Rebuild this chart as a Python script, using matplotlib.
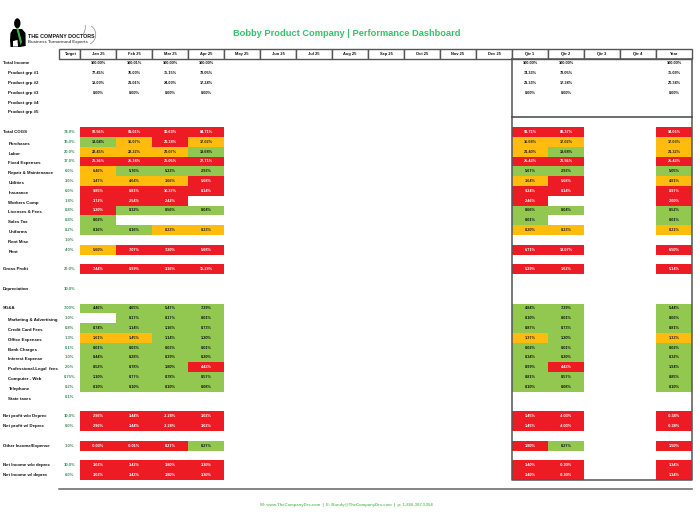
import matplotlib
matplotlib.use("Agg")
import matplotlib.pyplot as plt
from matplotlib.patches import Rectangle, Ellipse, Polygon, PathPatch
from matplotlib.path import Path

plt.rcParams['font.family'] = ['Liberation Sans', 'DejaVu Sans']

title = "Bobby Product Company | Performance Dashboard"
footer = "W: www.TheCompanyDrs.com  |  E: Bundy@TheCompanyDrs.com  |  p: 1-866-387-5354"
headers = ["Target", "Jan 25", "Feb 25", "Mar 25", "Apr 25", "May 25", "Jun 25", "Jul 25", "Aug 25",
           "Sep 25", "Oct 25", "Nov 25", "Dec 25", "Qtr 1", "Qtr 2", "Qtr 3", "Qtr 4", "Year"]

labels = ["Total Income", "Product grp #1", "Product grp #2", "Product grp #3", "Product grp #4", "Product grp #5", "",
          "Total COGS", "Purchases", "Labor", "Fixed Expenses", "Repair & Maintenance", "Utilities", "Insurance",
          "Workers Comp", "Licenses & Fees", "Sales Tax", "Uniforms", "Rent Misc", "Rent", "",
          "Gross Profit", "", "Depreciation", "",
          "SG&A", "Marketing & Advertising", "Credit Card Fees", "Office Expenses", "Bank Charges", "Interest Expense",
          "Professional-Legal  fees", "Computer - Web", "Telephone", "State taxes", "",
          "Net profit w/o Deprec", "Net profit w/ Deprec", "",
          "Other Income/Expense", "",
          "Net Income w/o deprec", "Net Income w/ deprec"]
indented = ["Product grp #1", "Product grp #2", "Product grp #3", "Product grp #4", "Product grp #5",
            "Purchases", "Labor", "Fixed Expenses", "Repair & Maintenance", "Utilities", "Insurance", "Workers Comp",
            "Licenses & Fees", "Sales Tax", "Uniforms", "Rent Misc", "Rent",
            "Marketing & Advertising", "Credit Card Fees", "Office Expenses", "Bank Charges", "Interest Expense",
            "Professional-Legal  fees", "Computer - Web", "Telephone", "State taxes"]

targets = ["", "", "", "", "", "", "",
           "74.0%", "15.0%", "20.0%", "17.0%", "6.0%", "3.0%", "6.0%", "1.8%", "0.8%", "0.8%", "0.2%", "1.0%", "4.0%", "",
           "26.0%", "", "10.0%", "",
           "7.00%", "1.0%", "0.8%", "1.3%", "0.1%", "1.0%", "2.0%", "0.75%", "0.2%", "0.1%", "",
           "10.0%", "0.0%", "", "1.0%", "", "10.0%", "0.0%"]

jan = ["100.00%", "77.45%", "18.00%", "0.00%", "", "", "",
       "92.56%", "13.04%", "22.45%", "26.36%", "6.46%", "3.47%", "9.85%", "3.72%", "1.20%", "0.02%", "0.16%", "", "5.60%", "",
       "7.44%", "", "", "",
       "4.46%", "", "0.74%", "1.61%", "0.01%", "0.44%", "0.52%", "1.10%", "0.10%", "", "",
       "2.96%", "2.96%", "", "-0.03%", "", "3.03%", "3.03%"]
feb = ["100.01%", "76.00%", "21.01%", "0.00%", "", "", "",
       "91.01%", "16.07%", "22.22%", "25.34%", "5.76%", "4.64%", "8.81%", "2.54%", "0.32%", "", "0.16%", "", "7.07%", "",
       "8.99%", "", "", "",
       "4.65%", "0.17%", "1.14%", "1.45%", "0.03%", "0.28%", "0.78%", "0.77%", "0.10%", "", "",
       "3.44%", "3.44%", "", "-0.01%", "", "3.43%", "3.43%"]
mar = ["100.00%", "75.15%", "24.00%", "0.00%", "", "", "",
       "90.63%", "20.18%", "20.07%", "26.05%", "5.23%", "3.66%", "10.37%", "2.42%", "0.56%", "", "0.23%", "", "7.20%", "",
       "3.16%", "", "", "",
       "5.47%", "0.17%", "1.16%", "1.14%", "0.03%", "0.39%", "1.80%", "0.78%", "0.10%", "", "",
       "-2.28%", "-2.28%", "", "0.27%", "", "3.80%", "3.80%"]
apr = ["100.00%", "78.05%", "17.24%", "0.00%", "", "", "",
       "84.71%", "17.02%", "19.68%", "27.71%", "2.93%", "5.68%", "8.14%", "", "0.04%", "", "0.23%", "", "5.68%", "",
       "15.29%", "", "", "",
       "7.29%", "0.01%", "0.73%", "1.20%", "0.01%", "0.20%", "4.43%", "0.57%", "0.08%", "", "",
       "3.03%", "3.03%", "", "0.27%", "", "3.30%", "3.30%"]
qtr1 = ["100.00%", "74.33%", "21.33%", "0.00%", "", "", "",
        "93.71%", "16.68%", "21.40%", "25.43%", "5.67%", "3.64%", "9.24%", "2.46%", "0.66%", "0.01%", "0.20%", "", "6.71%", "",
        "5.29%", "", "", "",
        "4.84%", "0.10%", "0.87%", "1.37%", "0.02%", "0.34%", "0.99%", "0.81%", "0.10%", "", "",
        "1.45%", "1.45%", "", "1.80%", "", "3.40%", "3.40%"]
qtr2 = ["100.00%", "78.05%", "17.34%", "0.00%", "", "", "",
        "88.37%", "17.02%", "19.68%", "26.56%", "2.93%", "5.68%", "8.14%", "", "0.04%", "", "0.23%", "", "13.07%", "",
        "1.63%", "", "", "",
        "7.29%", "0.01%", "0.73%", "1.20%", "0.01%", "0.20%", "4.43%", "0.57%", "0.08%", "", "",
        "-4.03%", "-4.03%", "", "0.27%", "", "-0.30%", "-0.30%"]
year = ["100.00%", "75.09%", "20.34%", "0.00%", "", "", "",
        "94.06%", "17.03%", "21.32%", "25.43%", "5.05%", "4.81%", "8.97%", "2.00%", "0.52%", "0.01%", "0.21%", "", "6.50%", "",
        "5.14%", "", "", "",
        "5.44%", "0.06%", "0.81%", "1.33%", "0.02%", "0.32%", "1.94%", "0.85%", "0.10%", "", "",
        "-0.38%", "-0.38%", "", "1.50%", "", "1.34%", "1.34%"]

# status per row, letters: R red, Y amber, G green, . no fill
status_jan = ".......RGYRYYRRRGG.Y.R...G.GYGGGGG..RR.R.RR"
status_feb = ".......RYYRGYRRG.G.R.R...GGGYGGGGG..RR.R.RR"
status_mar = ".......RRYRGYRRG.Y.R.R...GGGGGGGGG..RR.R.RR"
status_apr = ".......RYGRGRR.G.Y.R.R...GGGGGGRGG..RR.G.RR"
status_q1 = ".......RYYRGYRRGGY.R.R...GGGYGGGGG..RR.R.RR"
status_q2 = ".......RYGRGRR.G.Y.R.R...GGGGGGRGG..RR.G.RR"
status_yr = ".......RYYRGYRRGGY.R.R...GGGYGGGGG..RR.R.RR"

RED, AMBER, GREEN = "#ED1C24", "#FFBC0D", "#92C84F"
fill = {"R": RED, "Y": AMBER, "G": GREEN}
ink = {"R": "white", "Y": "#222222", "G": "#111111", ".": "#111111"}
TARGET_GREEN = "#3F8F5B"
EDGE = "#555555"

# layout in pixels
X0, TW, CW = 59.0, 21.0, 36.0
Y0, RH, HTOP, HBOT = 63.4, 9.8, 49.0, 59.0
col_left = [X0] + [X0 + TW + CW * i for i in range(17)]
col_w = [TW] + [CW] * 17
data_cols = {1: (jan, status_jan), 2: (feb, status_feb), 3: (mar, status_mar), 4: (apr, status_apr),
             13: (qtr1, status_q1), 14: (qtr2, status_q2), 17: (year, status_yr)}

fig = plt.figure(figsize=(7.0, 5.14), dpi=100)
ax = fig.add_axes([0, 0, 1, 1])
ax.set_xlim(0, 700)
ax.set_ylim(514, 0)
ax.axis("off")

row_y = lambda r: Y0 + RH * r
VAL = 2.75

for c, (vals, stat) in data_cols.items():
    for r, (v, s) in enumerate(zip(vals, stat)):
        if s in fill and v:
            ax.add_patch(Rectangle((col_left[c], row_y(r) - RH / 2), col_w[c], RH, fc=fill[s], ec="none", zorder=1))
        if v:
            ax.text(col_left[c] + col_w[c] / 2, row_y(r), v, ha="center", va="center", fontsize=VAL,
                    fontweight="bold", color=ink[s], zorder=3)

for r, (lab, t) in enumerate(zip(labels, targets)):
    if lab:
        ind = lab in indented
        off = 2.0 if ind and r > 6 else 0.0
        ax.text(8.5 if ind else 3.0, row_y(r) + off, lab, ha="left", va="center", fontsize=3.15,
                fontweight="bold", color="#111111")
    if t:
        ax.text(col_left[0] + TW / 2, row_y(r), t, ha="center", va="center", fontsize=3.0,
                fontweight="bold", color=TARGET_GREEN)

for h, x, w in zip(headers, col_left, col_w):
    ax.add_patch(Rectangle((x, HTOP), w, HBOT - HTOP, fc="white", ec=EDGE, lw=1.0, zorder=4))
    ax.text(x + w / 2, (HTOP + HBOT) / 2, h, ha="center", va="center", fontsize=2.9, fontweight="bold",
            color="#111111", zorder=5)

# summary frame
qx0, qx1 = col_left[13], col_left[17] + CW
bottom = row_y(42) + RH / 2
ax.plot([qx0, qx0, qx1, qx1, qx0], [HBOT, bottom, bottom, HBOT, HBOT], color=EDGE, lw=1.1, zorder=4)
ax.plot([qx0, qx1], [117.3, 117.3], color="#444444", lw=1.1, zorder=4)
ax.plot([X0, qx1], [489.3, 489.3], color="#666666", lw=1.1, zorder=4)

ax.text(347, 33.5, title, ha="center", va="center", fontsize=6.68, fontweight="bold", color="#35C26A")
ax.text(346, 505.3, footer, ha="center", va="center", fontsize=3.05, fontweight="bold", color="#72C172")

# logo
ax.add_patch(Ellipse((17.3, 23.3), 6.4, 10, fc="black", ec="none"))
ax.add_patch(Polygon([[10.5, 33], [13, 29], [22, 29], [25.5, 33], [25.7, 46], [20, 47], [10.5, 47], [10, 40]],
                     fc="black", ec="none"))
ax.add_patch(Polygon([[16.2, 28], [18.4, 28], [22, 42], [20.5, 45]], fc="#3FAE49", ec="none"))
ax.add_patch(Polygon([[13, 41], [17.5, 40], [18, 46.5], [13, 46.5]], fc="white", ec="none"))
ax.text(27.5, 37, "THE COMPANY DOCTORS", ha="left", va="center", fontsize=3.75, fontweight="bold", color="#111111")
ax.text(27.5, 41.7, "Business Turnaround Experts", ha="left", va="center", fontsize=3.1, color="#555555",
        fontweight="bold")
ax.add_patch(PathPatch(Path([(90, 44), (98, 40), (97, 29), (91, 26)], [Path.MOVETO, Path.CURVE4, Path.CURVE4, Path.CURVE4]),
                       fc="none", ec="#888888", lw=0.5))
ax.add_patch(PathPatch(Path([(83, 35), (85, 31), (86, 28), (85, 25)], [Path.MOVETO, Path.CURVE4, Path.CURVE4, Path.CURVE4]),
                       fc="none", ec="#888888", lw=0.5))

fig.savefig("out.png", dpi=100)
